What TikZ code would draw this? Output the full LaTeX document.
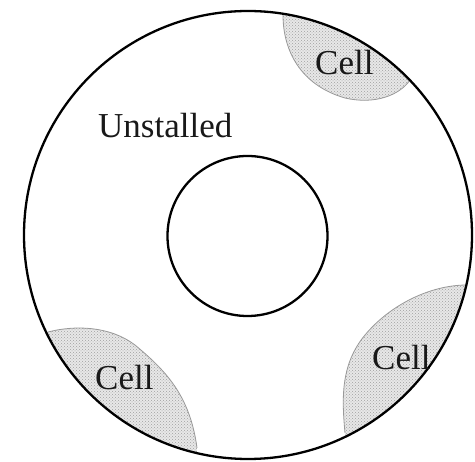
\documentclass[tikz,border=0pt]{standalone}
\usepackage{fontspec}
\setmainfont{Liberation Serif}
\usepackage{tikz}
\usetikzlibrary{patterns}

\begin{document}
\begin{tikzpicture}[
                x=1pt, y=-1pt,
                ring/.style={draw=black, line width=2.3pt, circle, inner sep=0pt},
                cellfill/.style={fill=gray!18, postaction={pattern=crosshatch dots, pattern color=gray!75}},
                cellrim/.style={draw=gray!80, line width=0.8pt},
                lbl/.style={font=\fontsize{35}{40}\selectfont, inner sep=0pt, anchor=base west, text=black!90}
            ]
            \useasboundingbox (0,0) rectangle (475,462);

            % Zellen
            \begin{scope}
                \clip (248,235) circle (224);
                \fill[cellfill] (283,15) .. controls (283,50) and (300,85) .. (345,98) .. controls (375,105) and (400,95) .. (410,80) -- (470,30) -- (300,-20) -- cycle;
                \fill[cellfill] (48,332) .. controls (75,325) and (110,326) .. (135,345) .. controls (165,370) and (190,395) .. (197,448) -- (195,490) -- (0,420) -- (10,330) -- cycle;
                \fill[cellfill] (467,285) .. controls (430,285) and (390,305) .. (365,335) .. controls (340,365) and (342,400) .. (345,433) -- (350,480) -- (490,420) -- (490,280) -- cycle;
            \end{scope}
            \draw[cellrim] (283,15) .. controls (283,50) and (300,85) .. (345,98) .. controls (375,105) and (400,95) .. (410,80);
            \draw[cellrim] (48,332) .. controls (75,325) and (110,326) .. (135,345) .. controls (165,370) and (190,395) .. (197,448);
            \draw[cellrim] (467,285) .. controls (430,285) and (390,305) .. (365,335) .. controls (340,365) and (342,400) .. (345,433);

            % Kreise
            \node[ring, minimum size=448pt] (outer) at (248,235) {};
            \node[ring, minimum size=160pt] (inner) at (247.5,236) {};

            % Beschriftungen
            \node[lbl] (unstalled) at (98,138) {Unstalled};
            \node[lbl] (celltop) at (315,75) {Cell};
            \node[lbl] (cellleft) at (95,390) {Cell};
            \node[lbl] (cellright) at (372,370) {Cell};

        \end{tikzpicture}
\end{document}
